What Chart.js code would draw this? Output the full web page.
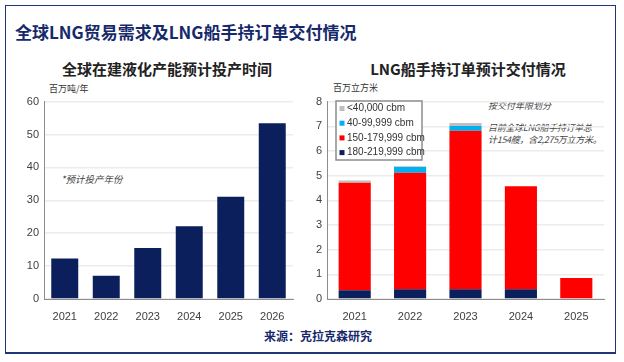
<!DOCTYPE html>
<html>
<head>
<meta charset="utf-8">
<script src="https://cdn.jsdelivr.net/npm/chart.js@4"></script>
<style>
  body { margin: 0; background: #fff; }
  #page { position: relative; width: 624px; height: 362px; overflow: hidden; font-family: "Noto Sans CJK SC", sans-serif; }
  #frame { position: absolute; left: 5px; top: 5px; width: 609px; height: 346px; border: 1.5px solid #1f3577; border-bottom-width: 2.5px; }
  .txt { position: absolute; white-space: nowrap; }
  #mainTitle { left: 15px; top: 19px; font-size: 17px; font-weight: bold; color: #16296b; }
  .subTitle { top: 58px; font-size: 15px; font-weight: bold; color: #222; transform: translateX(-50%); }
  .unit { font-size: 9px; color: #333; }
  .note { font-size: 9px; font-style: italic; color: #444; line-height: 12px; }
  #source { left: 318px; top: 327px; transform: translateX(-50%); font-size: 12px; font-weight: bold; color: #16296b; }
  canvas { position: absolute; }
</style>
</head>
<body>
<div id="page">
  <div id="frame"></div>
  <div class="txt" id="mainTitle">全球LNG贸易需求及LNG船手持订单交付情况</div>
  <div class="txt subTitle" style="left:167px">全球在建液化产能预计投产时间</div>
  <div class="txt subTitle" style="left:468px">LNG船手持订单预计交付情况</div>
  <div class="txt unit" style="left:49px; top:82px">百万吨/年</div>
  <div class="txt unit" style="left:333px; top:81px">百万立方米</div>
  <div class="txt note" style="left:61px; top:173px; font-size:9.5px">*预计投产年份</div>
  <div class="txt note" style="left:488px; top:100px">按交付年限划分</div>
  <div class="txt note" style="left:488px; top:122px; letter-spacing:-0.3px">目前全球LNG船手持订单总<br>计154艘，含2,275万立方米。</div>
  <div class="txt" id="source">来源：克拉克森研究</div>
  <canvas id="capChart" width="280" height="230" style="left:20px; top:90px"></canvas>
  <canvas id="shipChart" width="310" height="230" style="left:300px; top:90px"></canvas>
</div>
<script>
// left chart: liquefaction capacity
const capYears = ['2021', '2022', '2023', '2024', '2025', '2026'];
const capValues = [12.3, 7.1, 15.5, 22.1, 31.1, 53.4];

// right chart: LNG carrier orderbook by delivery year
const shipYears = ['2021', '2022', '2023', '2024', '2025'];
const ship180 = [0.35, 0.4, 0.4, 0.4, 0];
const ship150 = [4.36, 4.72, 6.42, 4.17, 0.85];
const ship40 = [0, 0.23, 0.19, 0, 0];
const shipSmall = [0.09, 0.03, 0.12, 0, 0];
const shipLabels = ['180-219,999 cbm', '150-179,999 cbm', '40-99,999 cbm', '<40,000 cbm'];

const tickFont = { family: 'Liberation Sans', size: 11 };

function axes(max, step, yWidth, xHeight) {
  return {
    x: {
      stacked: true,
      grid: { display: false },
      border: { color: '#8c8c8c' },
      ticks: { color: '#404040', font: tickFont, padding: 3 },
      afterFit: s => { s.height = xHeight; }
    },
    y: {
      stacked: true,
      min: 0, max: max,
      ticks: { stepSize: step, color: '#404040', font: tickFont, padding: 5 },
      grid: { color: '#ececec', drawTicks: false, lineWidth: 1.5 },
      border: { color: '#8c8c8c' },
      afterFit: s => { s.width = yWidth; }
    }
  };
}

new Chart(document.getElementById('capChart'), {
  type: 'bar',
  data: {
    labels: capYears,
    datasets: [{ data: capValues, backgroundColor: '#0a1f5c', barPercentage: 0.65, categoryPercentage: 1 }]
  },
  options: {
    responsive: false,
    animation: false,
    layout: { padding: { top: 6, right: 7 } },
    plugins: { legend: { display: false }, tooltip: { enabled: false } },
    scales: axes(60, 10, 24, 21)
  }
});

// legend drawn inside the plot box, top to bottom = top of stack first
const boxLegend = {
  id: 'boxLegend',
  afterDraw(chart) {
    const c = chart.ctx;
    const x = 336 - 300, y = 101 - 90, w = 86, h = 59;
    c.save();
    c.fillStyle = '#fff';
    c.fillRect(x, y, w, h);
    c.strokeStyle = '#8c8c8c';
    c.lineWidth = 1.5;
    c.strokeRect(x, y, w, h);
    c.font = '10px "Liberation Sans"';
    c.textBaseline = 'middle';
    const sets = chart.data.datasets.slice().reverse();
    sets.forEach((ds, i) => {
      const cy = y + 7.5 + i * 14.7;
      c.fillStyle = ds.backgroundColor;
      c.fillRect(x + 3.5, cy - 2.5, 5, 5);
      c.fillStyle = '#333';
      c.fillText(ds.label, x + 11, cy);
    });
    c.restore();
  }
};

new Chart(document.getElementById('shipChart'), {
  type: 'bar',
  data: {
    labels: shipYears,
    datasets: [
      { label: shipLabels[0], data: ship180, backgroundColor: '#0a1f5c' },
      { label: shipLabels[1], data: ship150, backgroundColor: '#ff0000' },
      { label: shipLabels[2], data: ship40, backgroundColor: '#00b0f0' },
      { label: shipLabels[3], data: shipSmall, backgroundColor: '#bfbfbf' }
    ].map(d => Object.assign(d, { barPercentage: 0.58, categoryPercentage: 1 }))
  },
  options: {
    responsive: false,
    animation: false,
    layout: { padding: { top: 6, right: 6 } },
    plugins: { legend: { display: false }, tooltip: { enabled: false } },
    scales: axes(8, 1, 27, 21)
  },
  plugins: [boxLegend]
});
</script>
</body>
</html>
